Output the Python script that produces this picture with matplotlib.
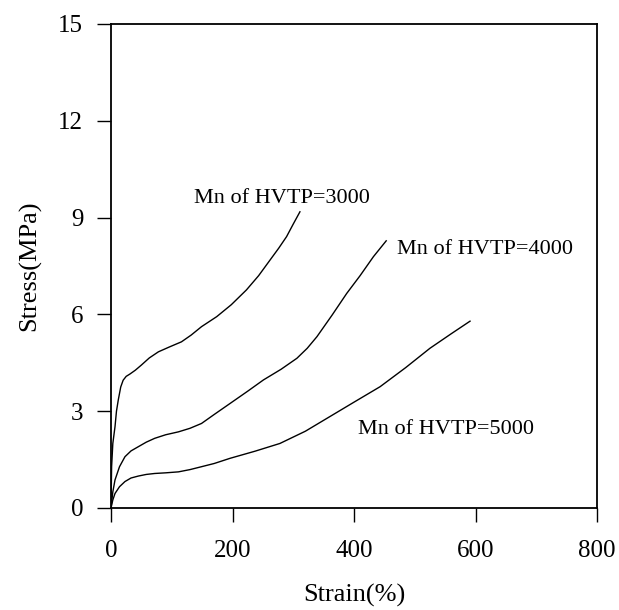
import matplotlib
matplotlib.use("Agg")
import matplotlib.pyplot as plt

# stress-strain curves
strain_3000 = [0, 1, 3, 6.6, 9, 12, 16, 20, 25, 31, 40, 50, 63, 78, 96, 116, 132, 149, 174, 198, 223, 243, 262, 276, 289, 300, 311]
stress_3000 = [0, 1.28, 2.0, 2.52, 3.0, 3.35, 3.75, 3.96, 4.08, 4.15, 4.27, 4.43, 4.65, 4.84, 4.99, 5.15, 5.36, 5.62, 5.93, 6.3, 6.76, 7.2, 7.69, 8.05, 8.41, 8.8, 9.18]

strain_4000 = [0, 3, 6.6, 14, 23, 33, 45, 58, 72, 90, 111, 130, 149, 170, 196, 225, 251, 280, 306, 323, 339, 364, 388, 410, 432, 453]
stress_4000 = [0, 0.5, 0.87, 1.28, 1.59, 1.77, 1.9, 2.04, 2.16, 2.27, 2.36, 2.47, 2.62, 2.9, 3.24, 3.62, 3.97, 4.3, 4.64, 4.95, 5.31, 5.98, 6.65, 7.2, 7.79, 8.28]

strain_5000 = [0, 3, 6.6, 14, 23, 33, 45, 58, 72, 90, 111, 130, 149, 170, 196, 237, 278, 320, 360, 400, 443, 485, 525, 560, 591]
stress_5000 = [0, 0.25, 0.45, 0.66, 0.82, 0.93, 0.99, 1.04, 1.07, 1.09, 1.12, 1.19, 1.28, 1.38, 1.54, 1.76, 2.0, 2.38, 2.83, 3.28, 3.76, 4.35, 4.95, 5.4, 5.79]

labels = ["Mn of HVTP=3000", "Mn of HVTP=4000", "Mn of HVTP=5000"]
xticks = [0, 200, 400, 600, 800]
yticks = [0, 3, 6, 9, 12, 15]

plt.rcParams["font.family"] = ["Liberation Serif", "DejaVu Serif"]

fig = plt.figure(figsize=(6.19, 6.10), dpi=100)
ax = fig.add_axes([111 / 619, 1 - 508 / 610, (597 - 111) / 619, (508 - 24) / 610])

for xs, ys in [(strain_3000, stress_3000), (strain_4000, stress_4000), (strain_5000, stress_5000)]:
    ax.plot(xs, ys, color="black", lw=1.0)

ax.text(282, 9.6, labels[0], fontsize=16, ha="center", va="center")
ax.text(470, 8.0, labels[1], fontsize=16, ha="left", va="center")
ax.text(407, 2.42, labels[2], fontsize=16, ha="left", va="center")

ax.set_xlim(0, 800)
ax.set_ylim(0, 15)
ax.set_xticks(xticks)
ax.set_yticks(yticks)
ax.tick_params(direction="out", length=10, width=1, labelsize=18)
ax.tick_params(axis="x", pad=13)
ax.tick_params(axis="y", pad=10)
for s in ax.spines.values():
    s.set_linewidth(1.3)

ax.set_xlabel("Strain(%)", fontsize=19, labelpad=16)
ax.set_ylabel("Stress(MPa)", fontsize=19, labelpad=12)

fig.savefig("out.png", dpi=100)
